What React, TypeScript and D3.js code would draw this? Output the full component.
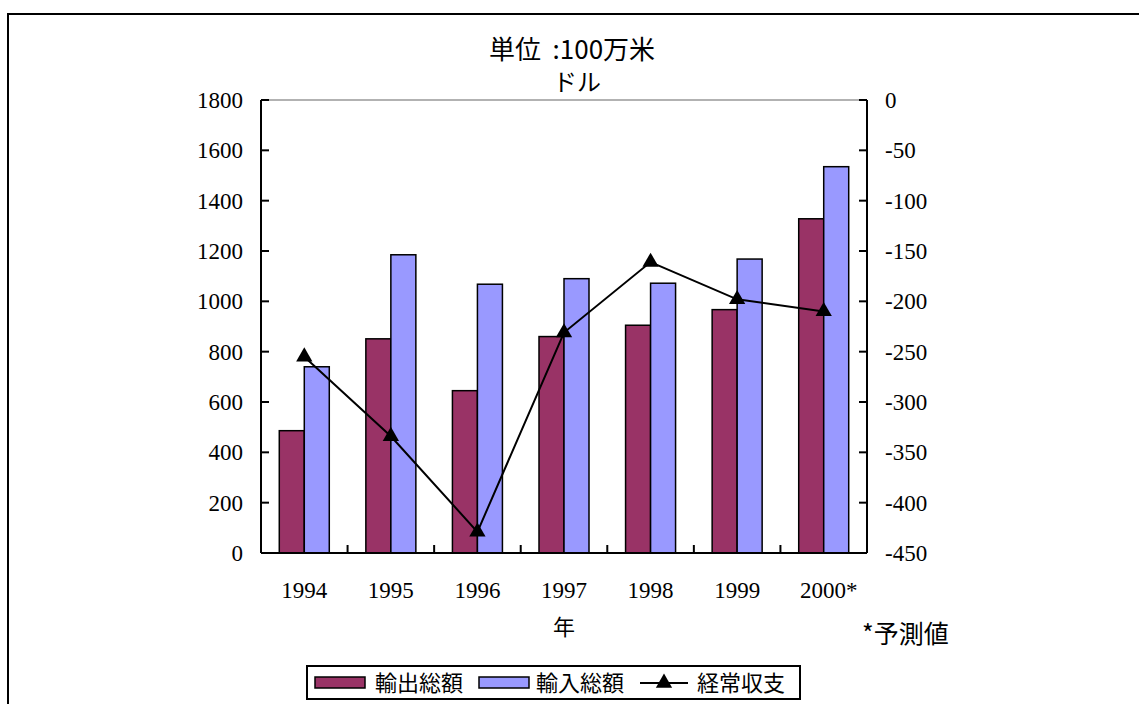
import React from "react";
import * as d3 from "d3";

// years on the x axis
const years = ["1994", "1995", "1996", "1997", "1998", "1999", "2000*"];
// 輸出総額 / 輸入総額 (100万米ドル)
const exports = [486, 851, 645, 860, 905, 967, 1328];
const imports = [740, 1185, 1068, 1090, 1072, 1168, 1535];
// 経常収支 (right axis)
const balance = [-255, -334, -429, -231, -161, -198, -210];

const leftTicks = [0, 200, 400, 600, 800, 1000, 1200, 1400, 1600, 1800];
const rightTicks = [0, -50, -100, -150, -200, -250, -300, -350, -400, -450];

const W = 1139;
const H = 704;
const plot = { left: 261, right: 867, top: 100, bottom: 553 };

const MAROON = "#993366";
const LAVENDER = "#9999FF";
const SERIF = "'Liberation Serif', 'Times New Roman', serif";
const SANS = "'Noto Sans CJK JP', 'Noto Sans', sans-serif";

const App = () => {
  const x = d3
    .scaleBand<string>()
    .domain(years)
    .range([plot.left, plot.right])
    .paddingInner(0)
    .paddingOuter(0);
  const inner = d3
    .scaleBand<string>()
    .domain(["exp", "imp"])
    .range([0, 50]);
  const yLeft = d3.scaleLinear().domain([0, 1800]).range([plot.bottom, plot.top]);
  const yRight = d3.scaleLinear().domain([-450, 0]).range([plot.bottom, plot.top]);

  const mid = (d: string) => (x(d) as number) + x.bandwidth() / 2;
  const line = d3
    .line<number>()
    .x((_, i) => mid(years[i]))
    .y((d) => yRight(d));

  const tri = d3.symbol().type(d3.symbolTriangle).size(115)();

  // category boundaries for x ticks
  const xTicks = years.map((d) => x(d) as number).concat([plot.right]);

  return (
    <svg
      width={W}
      height={H}
      style={{ position: "absolute", left: 0, top: 0, background: "#fff" }}
    >
      {/* outer frame */}
      <rect x={8} y={14} width={1300} height={900} fill="none" stroke="#000" strokeWidth={2} />

      {/* title */}
      <text x={572} y={59} textAnchor="middle" fontFamily={SANS} fontSize={26} style={{ whiteSpace: "pre" }}>
        {"単位  :100万米"}
      </text>
      <text x={577} y={91} textAnchor="middle" fontFamily={SANS} fontSize={24}>
        ドル
      </text>

      {/* plot area top border */}
      <line x1={plot.left} x2={plot.right} y1={plot.top} y2={plot.top} stroke="#999" strokeWidth={1.5} />

      {/* bars */}
      {years.map((d, i) => (
        <g key={d} transform={`translate(${mid(d) - 25},0)`}>
          <rect
            x={inner("exp")}
            y={yLeft(exports[i])}
            width={inner.bandwidth()}
            height={plot.bottom - yLeft(exports[i])}
            fill={MAROON}
            stroke="#000"
            strokeWidth={1.5}
          />
          <rect
            x={inner("imp")}
            y={yLeft(imports[i])}
            width={inner.bandwidth()}
            height={plot.bottom - yLeft(imports[i])}
            fill={LAVENDER}
            stroke="#000"
            strokeWidth={1.5}
          />
        </g>
      ))}

      {/* axes */}
      <line x1={plot.left} x2={plot.left} y1={plot.top} y2={plot.bottom} stroke="#000" strokeWidth={2} />
      <line x1={plot.right} x2={plot.right} y1={plot.top} y2={plot.bottom} stroke="#000" strokeWidth={2} />
      <line x1={plot.left} x2={plot.right} y1={plot.bottom} y2={plot.bottom} stroke="#000" strokeWidth={2} />

      {leftTicks.map((t) => (
        <g key={"l" + t}>
          <line x1={plot.left} x2={plot.left + 8} y1={yLeft(t)} y2={yLeft(t)} stroke="#000" strokeWidth={2} />
          <text x={243} y={yLeft(t) + 8} textAnchor="end" fontFamily={SERIF} fontSize={23}>
            {t}
          </text>
        </g>
      ))}
      {rightTicks.map((t) => (
        <g key={"r" + t}>
          <line x1={plot.right - 8} x2={plot.right} y1={yRight(t)} y2={yRight(t)} stroke="#000" strokeWidth={2} />
          <text x={885} y={yRight(t) + 8} textAnchor="start" fontFamily={SERIF} fontSize={23}>
            {t}
          </text>
        </g>
      ))}
      {xTicks.map((t, i) => (
        <line key={"x" + i} x1={t} x2={t} y1={plot.bottom - 8} y2={plot.bottom} stroke="#000" strokeWidth={2} />
      ))}
      {years.map((d) => (
        <text key={"xl" + d} x={mid(d) + (d.endsWith("*") ? 5 : 0)} y={598} textAnchor="middle" fontFamily={SERIF} fontSize={23}>
          {d}
        </text>
      ))}

      {/* balance line */}
      <path d={line(balance) || ""} fill="none" stroke="#000" strokeWidth={2} />
      {balance.map((v, i) => (
        <path key={"m" + i} d={tri || ""} transform={`translate(${mid(years[i])},${yRight(v)})`} fill="#000" />
      ))}

      {/* axis title and note */}
      <text x={564} y={635} textAnchor="middle" fontFamily={SANS} fontSize={22}>
        年
      </text>
      <text x={862} y={643} fontFamily={SANS} fontSize={25}>
        *予測値
      </text>

      {/* legend */}
      <g>
        <rect x={307} y={666} width={493} height={33} fill="#fff" stroke="#000" strokeWidth={2} />
        <rect x={315} y={677} width={50} height={11} fill={MAROON} stroke="#000" strokeWidth={1.5} />
        <text x={375} y={691} fontFamily={SANS} fontSize={22}>
          輸出総額
        </text>
        <rect x={479} y={677} width={50} height={11} fill={LAVENDER} stroke="#000" strokeWidth={1.5} />
        <text x={536} y={691} fontFamily={SANS} fontSize={22}>
          輸入総額
        </text>
        <line x1={640} x2={688} y1={683} y2={683} stroke="#000" strokeWidth={2} />
        <path d={tri || ""} transform="translate(664,683)" fill="#000" />
        <text x={697} y={691} fontFamily={SANS} fontSize={22}>
          経常収支
        </text>
      </g>
    </svg>
  );
};

export default App;
